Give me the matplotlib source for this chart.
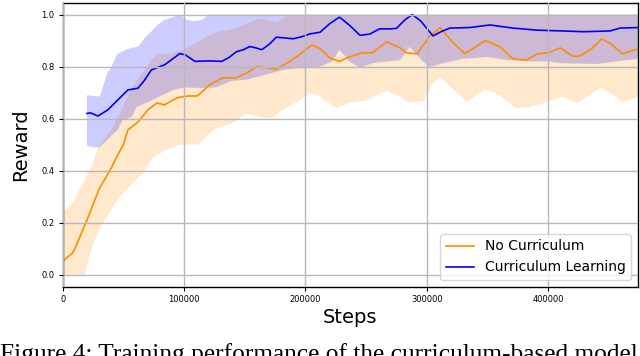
import numpy as np
import matplotlib
matplotlib.use('Agg')
import matplotlib.pyplot as plt

# ---- data ----
# No Curriculum (orange)
nc_x = [0, 8000, 10000, 20000, 30000, 40000, 44500, 50000, 53600, 62000, 70000, 77500, 84000,
        94000, 103000, 111000, 121000, 132000, 143000, 151500, 160000, 168000, 176000, 187000,
        195000, 205000, 212000, 220000, 228000, 236000, 247000, 255000, 267000, 278000, 283000,
        292000, 302000, 311000, 320000, 331000, 340000, 348000, 360000, 371000, 382000, 391000,
        400000, 410000, 420000, 426000, 436000, 444000, 451000, 461000, 474000]
nc_mean = [0.052, 0.083, 0.10, 0.21, 0.33, 0.41, 0.453, 0.50, 0.556, 0.587, 0.633, 0.66, 0.653,
           0.68, 0.687, 0.687, 0.73, 0.757, 0.757, 0.775, 0.80, 0.795, 0.79, 0.82,
           0.845, 0.883, 0.87, 0.833, 0.82, 0.837, 0.853, 0.853, 0.895, 0.872, 0.853,
           0.849, 0.915, 0.95, 0.90, 0.85, 0.875, 0.90, 0.877, 0.83, 0.825, 0.849,
           0.853, 0.872, 0.84, 0.84, 0.87, 0.906, 0.89, 0.849, 0.868]

nc_up_x = [0, 8000, 18000, 25000, 29000, 40000, 48600, 57000, 67600, 73000, 78000, 90000, 100000,
           110000, 120000, 130000, 140000, 151500, 162000, 168000, 176000, 187000, 474000]
nc_up = [0.24, 0.275, 0.364, 0.43, 0.49, 0.556, 0.633, 0.72, 0.787, 0.826, 0.845, 0.852, 0.866,
         0.89, 0.92, 0.935, 0.945, 0.965, 0.985, 0.98, 0.97, 1.0, 1.0]

nc_lo_x = [0, 10000, 18000, 25000, 33000, 40000, 47000, 57000, 66000, 74000, 85500, 96500, 111000,
           124000, 140000, 151500, 160000, 171000, 181000, 195000, 204000, 212000, 226000, 236000,
           250000, 267000, 278000, 286000, 298000, 304000, 311000, 320000, 333000, 348000, 360000,
           373000, 385000, 400000, 411000, 424000, 444000, 462000, 474000]
nc_lo = [0.0, 0.0, 0.0, 0.12, 0.20, 0.25, 0.30, 0.35, 0.39, 0.45, 0.48, 0.50, 0.50,
         0.557, 0.583, 0.62, 0.61, 0.60, 0.633, 0.67, 0.70, 0.685, 0.64, 0.66,
         0.67, 0.707, 0.683, 0.66, 0.67, 0.73, 0.76, 0.72, 0.665, 0.714, 0.69,
         0.64, 0.645, 0.665, 0.683, 0.66, 0.72, 0.665, 0.683]

# Curriculum Learning (blue)
cl_x = [20000, 23000, 29000, 37000, 45000, 53600, 62000, 67000, 73000, 84000, 96500, 101000,
        109000, 121000, 131000, 137000, 143000, 149000, 154000, 159000, 164000, 170000, 176000,
        183000, 190000, 197000, 204000, 212000, 220000, 228000, 236000, 245000, 253000, 261000,
        270000, 275000, 282000, 288000, 295000, 305000, 312000, 319000, 335000, 352000, 371000,
        391000, 412000, 429000, 451000, 459000, 474000]
cl_mean = [0.62, 0.622, 0.61, 0.633, 0.67, 0.71, 0.717, 0.745, 0.787, 0.807, 0.85, 0.845,
           0.82, 0.822, 0.82, 0.835, 0.857, 0.865, 0.877, 0.872, 0.865, 0.885, 0.913,
           0.91, 0.907, 0.915, 0.926, 0.932, 0.965, 0.99, 0.96, 0.92, 0.925, 0.945,
           0.945, 0.947, 0.98, 1.0, 0.975, 0.918, 0.935, 0.948, 0.95, 0.96, 0.948,
           0.94, 0.937, 0.934, 0.937, 0.948, 0.95]

cl_up_x = [20000, 30500, 33000, 37000, 39000, 45000, 53600, 62000, 67600, 73000, 78000, 84000,
           91000, 96500, 102000, 108000, 115000, 120000, 474000]
cl_up = [0.69, 0.685, 0.72, 0.78, 0.787, 0.85, 0.868, 0.877, 0.91, 0.935, 0.96, 0.98,
         0.99, 1.0, 0.98, 0.975, 0.98, 1.0, 1.0]

cl_lo_x = [20000, 25000, 30000, 35000, 39000, 45000, 49500, 57000, 61000, 74000, 91000, 100000,
           113000, 126000, 139000, 152000, 168000, 181000, 195000, 212000, 222000, 228000, 236000,
           245000, 255000, 267000, 278000, 286000, 294000, 302000, 313000, 330000, 350000, 366000,
           385000, 400000, 412000, 440000, 456000, 474000]
cl_lo = [0.495, 0.49, 0.49, 0.51, 0.53, 0.556, 0.595, 0.607, 0.645, 0.672, 0.71, 0.72,
         0.718, 0.72, 0.745, 0.75, 0.77, 0.787, 0.795, 0.80, 0.82, 0.865, 0.82,
         0.795, 0.813, 0.82, 0.825, 0.876, 0.833, 0.797, 0.813, 0.83, 0.837, 0.825,
         0.82, 0.82, 0.813, 0.81, 0.82, 0.83]

x_ticks = [0, 100000, 200000, 300000, 400000]
y_ticks = [0.0, 0.2, 0.4, 0.6, 0.8, 1.0]

fig = plt.figure(figsize=(6.4, 3.56), dpi=100)
ax = fig.add_axes([0.098, 0.194, 0.899, 0.798])

# bands as polygons (upper edge then lower edge back), orange first, blue on top
ax.fill(np.r_[nc_up_x, nc_lo_x[::-1]], np.r_[nc_up, nc_lo[::-1]],
        color='darkorange', alpha=0.2, lw=0)
ax.fill(np.r_[cl_up_x, cl_lo_x[::-1]], np.r_[cl_up, cl_lo[::-1]],
        color='blue', alpha=0.2, lw=0)

ax.plot(nc_x, nc_mean, color='darkorange', lw=1.2, label='No Curriculum')
ax.plot(cl_x, cl_mean, color='blue', lw=1.2, label='Curriculum Learning')

ax.set_xlim(0, 474000)
ax.set_ylim(-0.047, 1.045)
ax.set_xticks(x_ticks)
ax.set_xticklabels([str(v) for v in x_ticks])
ax.set_yticks(y_ticks)
ax.set_yticklabels(['%.1f' % v for v in y_ticks])
ax.tick_params(labelsize=6, length=3, width=0.8, pad=3)
ax.grid(True, color='#b8b8b8', lw=1.0)
ax.set_axisbelow(False)
for s in ax.spines.values():
    s.set_color('black')
    s.set_linewidth(1.0)

ax.set_xlabel('Steps', fontsize=14, labelpad=3)
ax.set_ylabel('Reward', fontsize=14, labelpad=8)

ax.legend(loc='lower right', fontsize=10, framealpha=0.8)

# caption (cut at the bottom in the original)
fig.text(0.0, 1 - 361 / 356, 'Figure 4: Training performance of the curriculum-based model',
         family=['Liberation Serif', 'DejaVu Serif'], fontsize=18.3, ha='left', va='baseline')

fig.savefig('out.png', dpi=100)
